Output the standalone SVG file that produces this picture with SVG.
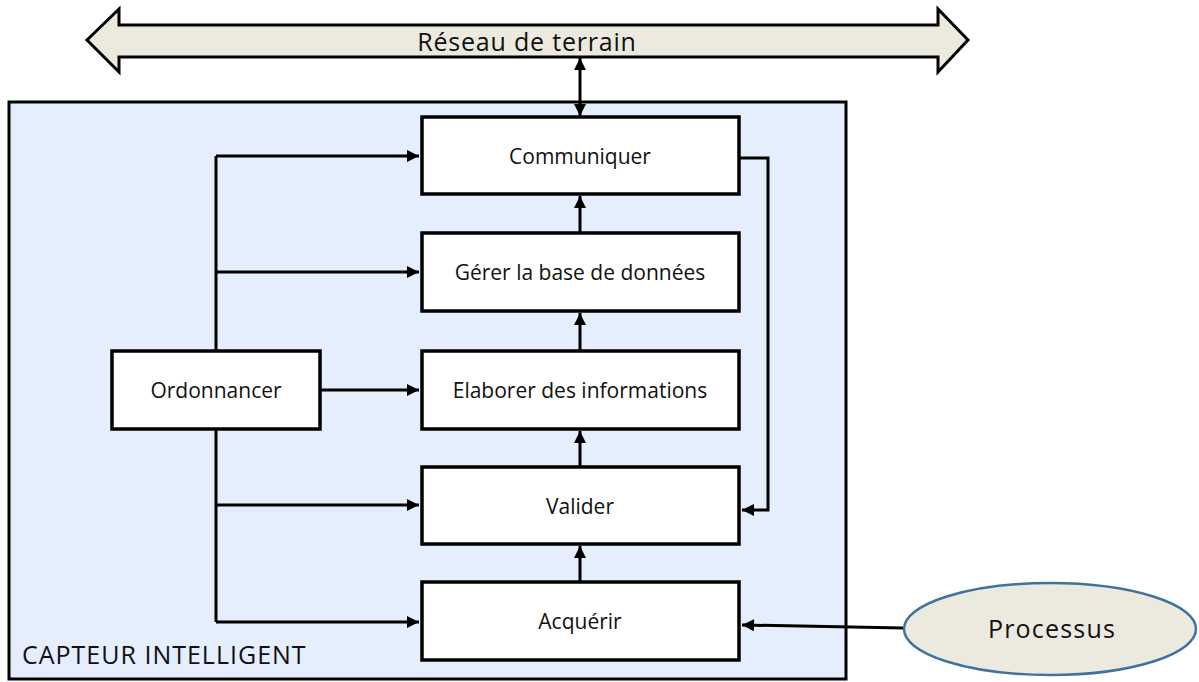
<svg xmlns="http://www.w3.org/2000/svg" width="1199" height="682" viewBox="0 0 1199 682">
<style>
.box{fill:#ffffff;stroke:#000;stroke-width:3.5}
.lbl{font-family:"Open Sans","Liberation Sans",sans-serif;font-size:21px;fill:#111;text-anchor:middle}
.big{font-family:"Open Sans","Liberation Sans",sans-serif;font-size:25px;fill:#111}
.con{fill:none;stroke:#000;stroke-width:3}
</style>
<defs>
<marker id="ah" markerUnits="userSpaceOnUse" markerWidth="14" markerHeight="14" viewBox="0 0 14 14" refX="13" refY="7" orient="auto-start-reverse">
<path d="M1,1 L13,7 L1,13 Z" fill="#000"/>
</marker>
</defs>
<g id="reseau">
<path d="M87,40 L119,9 L119,25 L938,25 L938,9 L968,40 L938,72 L938,57 L119,57 L119,72 Z" fill="#ECEADF" stroke="#000" stroke-width="3" stroke-linejoin="miter"/>
<text class="big" x="527" y="51" text-anchor="middle" letter-spacing="0.8">Réseau de terrain</text>
</g>
<g id="capteur">
<rect x="9" y="102" width="837" height="577" fill="#E4EEFC" stroke="#000" stroke-width="3"/>
<text class="big" x="22" y="664" letter-spacing="1">CAPTEUR INTELLIGENT</text>
</g>
<g id="connectors">
<path class="con" d="M580,58 V116" marker-start="url(#ah)" marker-end="url(#ah)"/>
<path class="con" d="M216,351 V156"/>
<path class="con" d="M216,429 V622"/>
<path class="con" d="M216,156 H419" marker-end="url(#ah)"/>
<path class="con" d="M216,272 H419" marker-end="url(#ah)"/>
<path class="con" d="M321,390 H419" marker-end="url(#ah)"/>
<path class="con" d="M216,505 H419" marker-end="url(#ah)"/>
<path class="con" d="M216,622 H419" marker-end="url(#ah)"/>
<path class="con" d="M580,233 V196" marker-end="url(#ah)"/>
<path class="con" d="M580,351 V313" marker-end="url(#ah)"/>
<path class="con" d="M580,467 V431" marker-end="url(#ah)"/>
<path class="con" d="M580,582 V546" marker-end="url(#ah)"/>
<path class="con" d="M740,158 H768 V510 H742" marker-end="url(#ah)"/>
<path class="con" d="M903,628 L742,625" marker-end="url(#ah)"/>
</g>
<g id="communiquer">
<rect class="box" x="422" y="117" width="317" height="77"/>
<text class="lbl" x="580" y="164">Communiquer</text>
</g>
<g id="gerer">
<rect class="box" x="422" y="233" width="317" height="78"/>
<text class="lbl" x="580" y="280">Gérer la base de données</text>
</g>
<g id="elaborer">
<rect class="box" x="422" y="351" width="317" height="78"/>
<text class="lbl" x="580" y="398">Elaborer des informations</text>
</g>
<g id="valider">
<rect class="box" x="422" y="467" width="317" height="77"/>
<text class="lbl" x="580" y="514">Valider</text>
</g>
<g id="acquerir">
<rect class="box" x="422" y="582" width="317" height="78"/>
<text class="lbl" x="580" y="629">Acquérir</text>
</g>
<g id="ordonnancer">
<rect class="box" x="112" y="351" width="208" height="78"/>
<text class="lbl" x="216" y="398">Ordonnancer</text>
</g>
<g id="processus">
<ellipse cx="1050" cy="629" rx="146" ry="46" fill="#ECEADF" stroke="#41719C" stroke-width="2.5"/>
<text class="big" x="1052" y="638" text-anchor="middle" font-size="24" letter-spacing="1.2">Processus</text>
</g>
</svg>
